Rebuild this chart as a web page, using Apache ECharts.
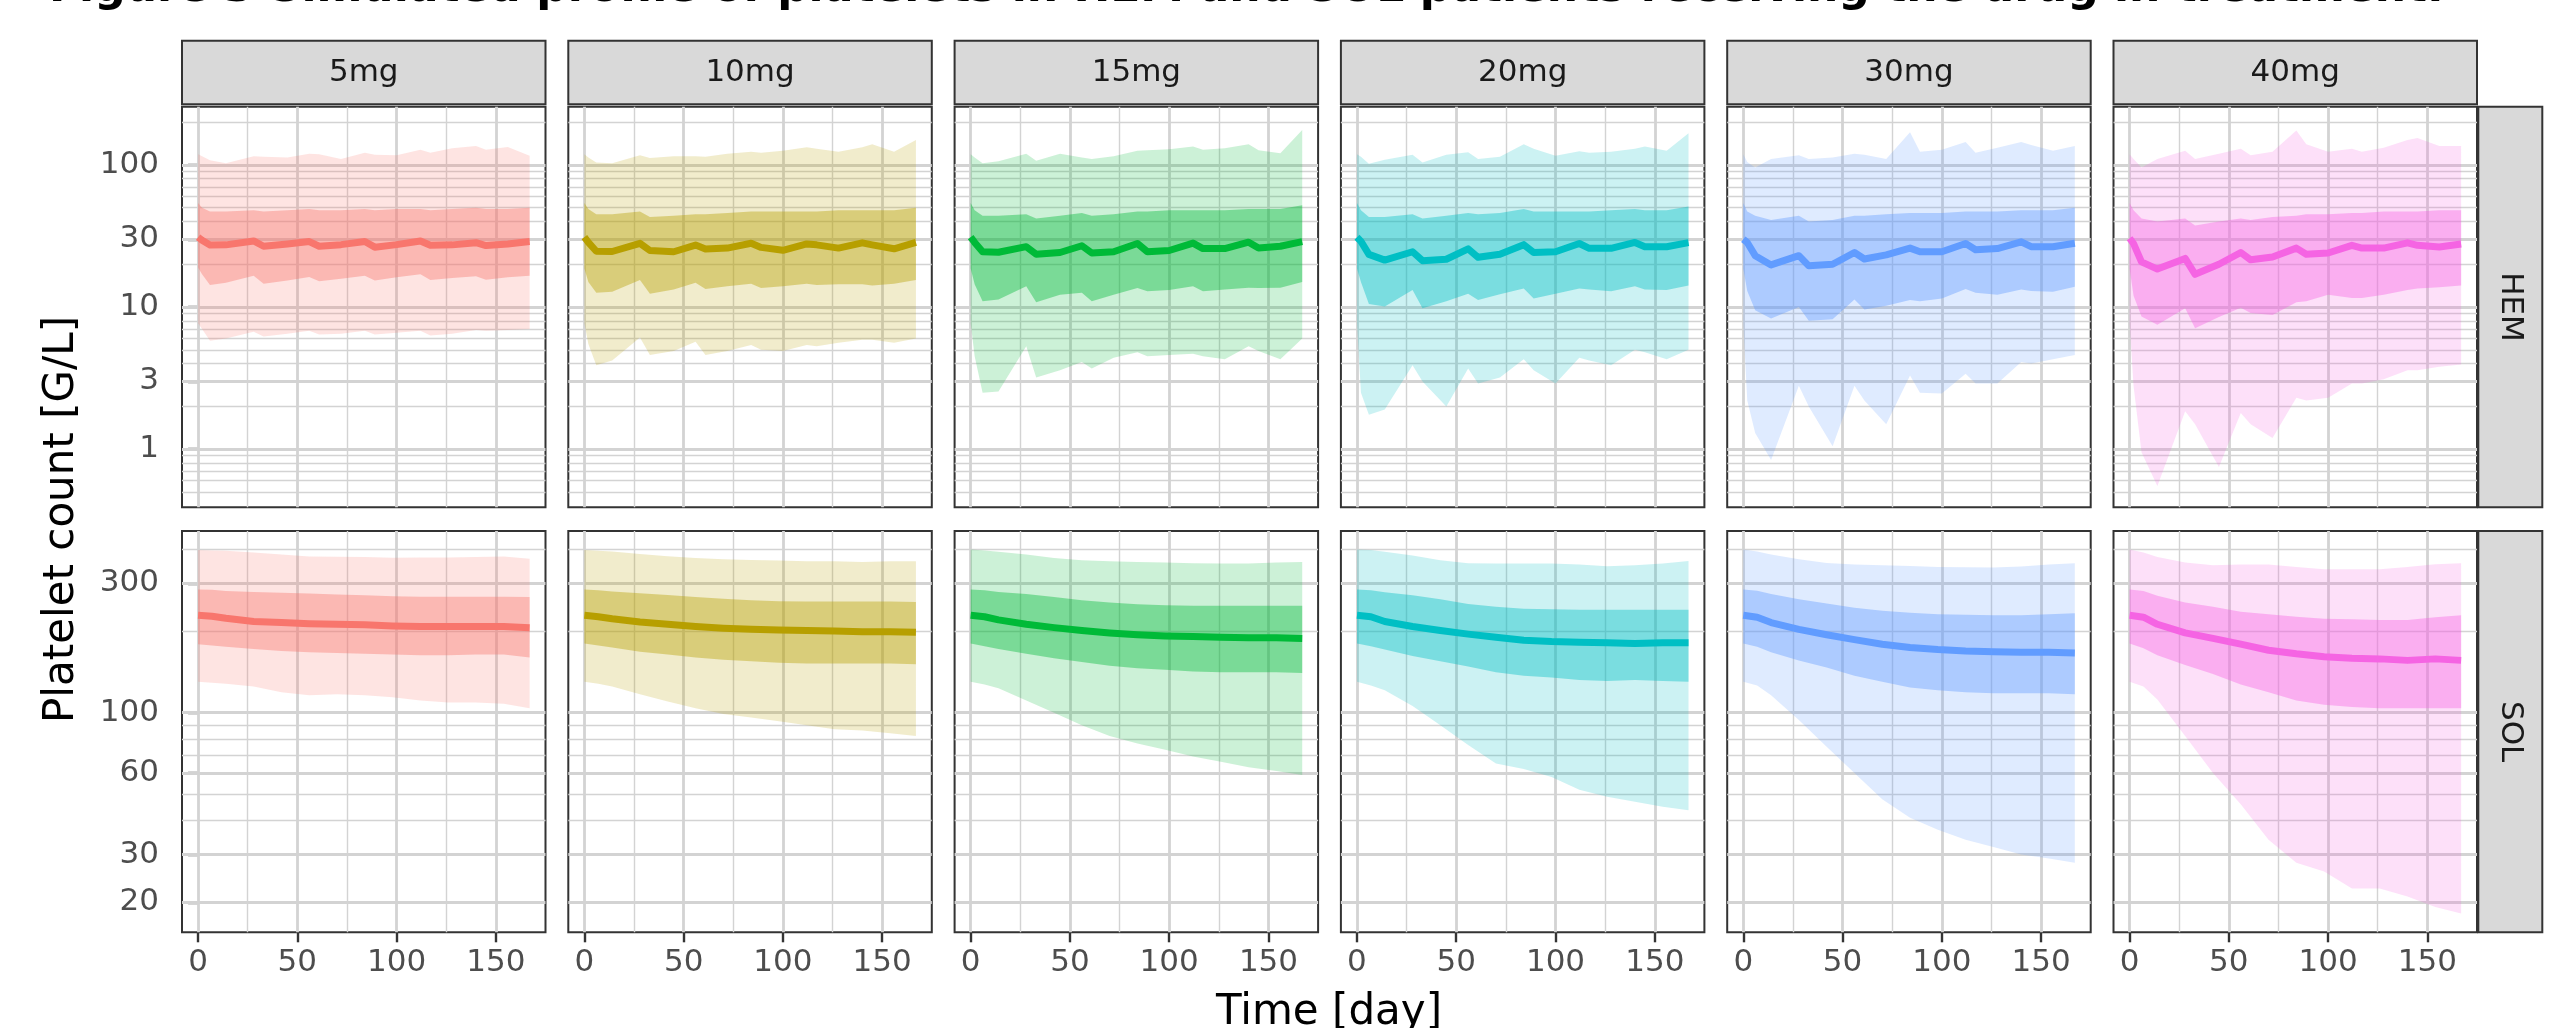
<!DOCTYPE html>
<html><head><meta charset="utf-8">
<script src="https://cdn.jsdelivr.net/npm/echarts@6/dist/echarts.min.js"></script>
<style>html,body{margin:0;padding:0;background:#fff}#c{width:2562px;height:1028px}</style>
</head><body><div id="c"></div>
<script>
// ---------------- DATA ----------------
const doses = ['5mg', '10mg', '15mg', '20mg', '30mg', '40mg'];
const groups = ['HEM', 'SOL'];
const doseColors = ['#F8766D', '#B79F00', '#00BA38', '#00BFC4', '#619CFF', '#F564E3'];

const xTicks = [0, 50, 100, 150];
const xMinorTicks = [25, 75, 125];
const hemTicks = [1, 3, 10, 30, 100];
const hemMinorTicks = [0.5, 0.6, 0.7, 0.8, 0.9, 2, 4, 5, 6, 7, 8, 9, 20, 40, 50, 60, 70, 80, 90, 200];
const solTicks = [20, 30, 60, 100, 300];
const solMinorTicks = [40, 50, 70, 80, 90, 200, 400];

const hemDays = [0, 2, 6, 14, 28, 33, 45, 56, 61, 72, 84, 89, 100, 112, 117, 128, 140, 145, 156, 167];
const solDays = [0, 7, 14, 28, 42, 56, 70, 84, 98, 112, 126, 140, 154, 167];

// HEM 5mg
const hem5_med  = [31, 29.5, 27.3, 27.4, 29.2, 26.8, 27.8, 28.9, 26.8, 27.5, 28.9, 26.4, 27.5, 29.2, 27.2, 27.4, 28.4, 27.1, 27.8, 28.9];
const hem5_hi50 = [54, 50, 47, 47, 48, 47, 48, 49, 48, 48, 49, 48, 49, 49, 48, 49, 50, 49, 49, 50];
const hem5_lo50 = [19, 17, 14.3, 14.8, 16.6, 14.6, 15.4, 16.3, 15.2, 15.8, 16.6, 15.4, 16.2, 17.0, 15.5, 16.0, 16.5, 15.6, 16.2, 16.6];
const hem5_hi90 = [119, 115, 108, 103, 115, 114, 113, 120, 119, 110, 122, 118, 117, 128, 122, 131, 136, 128, 134, 116];
const hem5_lo90 = [7.7, 7.0, 5.8, 6.0, 6.7, 6.2, 6.5, 6.8, 6.4, 6.5, 6.8, 6.4, 6.6, 6.8, 6.3, 6.5, 6.9, 6.8, 6.9, 7.0];
// HEM 10mg
const hem10_med  = [31, 28.5, 24.7, 24.6, 28.1, 25.0, 24.5, 27.3, 25.6, 26.0, 28.1, 26.3, 25.1, 27.8, 27.4, 26.0, 28.3, 27.4, 25.7, 28.5];
const hem10_hi50 = [54, 49, 45, 45, 47, 43, 44, 45, 45, 46, 47, 47, 47, 47, 47, 48, 48, 48, 48, 50];
const hem10_lo50 = [18.7, 15, 12.6, 12.8, 15.5, 12.4, 13.3, 14.8, 13.4, 14.0, 14.6, 13.6, 14.0, 14.6, 14.3, 14.5, 14.5, 14.2, 14.6, 15.5];
const hem10_hi90 = [119, 113, 104, 103, 117, 112, 115, 115, 114, 120, 124, 122, 126, 133, 130, 124, 133, 140, 124, 150];
const hem10_lo90 = [7.7, 5.5, 3.9, 4.2, 6.1, 4.6, 4.9, 5.7, 4.6, 4.9, 5.4, 5.0, 4.9, 5.4, 5.3, 5.6, 5.9, 5.9, 5.6, 6.0];
// HEM 15mg
const hem15_med  = [31, 28.5, 24.5, 24.3, 26.6, 23.5, 24.2, 27, 24, 24.5, 28, 24.5, 25, 28.2, 25.8, 25.8, 28.6, 26, 26.8, 28.9];
const hem15_hi50 = [54, 48, 44, 44, 45, 42, 44, 46, 44, 45, 47, 47, 48, 48, 48, 48, 49, 49, 49, 52];
const hem15_lo50 = [18.7, 14.5, 11, 11.3, 14.0, 10.8, 12.2, 12.6, 11.0, 12.2, 13.6, 12.9, 13.2, 14.0, 12.9, 13.3, 13.7, 13.6, 13.7, 15.0];
const hem15_hi90 = [119, 113, 103, 106, 120, 107, 120, 113, 110, 115, 126, 127, 129, 135, 128, 131, 140, 127, 121, 176];
const hem15_lo90 = [7.7, 4.5, 2.5, 2.55, 5.3, 3.2, 3.6, 4.1, 3.7, 4.4, 4.8, 4.5, 4.6, 4.7, 4.5, 4.3, 5.3, 4.9, 4.3, 6.0];
// HEM 20mg
const hem20_med  = [31, 29, 23.5, 21.4, 24.5, 21.2, 21.7, 25.7, 22.4, 23.5, 27.5, 24.2, 24.5, 28.0, 25.9, 25.9, 28.5, 26.6, 26.6, 28.4];
const hem20_hi50 = [54, 48, 43, 43, 45, 42, 44, 46, 45, 46, 49, 47, 47, 47, 47, 48, 49, 48, 48, 51];
const hem20_lo50 = [18.7, 15, 10.5, 10.1, 13.2, 9.8, 11.0, 12.4, 11.2, 12.3, 13.5, 11.5, 12.4, 13.5, 13.3, 12.9, 14.0, 13.3, 13.2, 14.2];
const hem20_hi90 = [119, 114, 102, 109, 118, 104, 118, 123, 110, 114, 140, 130, 116, 125, 122, 124, 130, 135, 126, 167];
const hem20_lo90 = [7.7, 2.5, 1.75, 1.9, 3.9, 3.0, 2.0, 3.7, 2.9, 3.2, 4.3, 3.6, 2.9, 4.4, 4.2, 3.9, 5.0, 4.8, 4.3, 5.0];
// HEM 30mg
const hem30_med  = [30, 28.5, 23, 19.8, 23, 19.5, 20, 24.2, 21.8, 23.3, 26, 24.5, 24.5, 28, 25.3, 25.8, 28.8, 26.6, 26.6, 28.1];
const hem30_hi50 = [54, 47, 44, 41, 44, 40, 41, 44, 44, 45, 46, 46, 46, 47, 47, 47, 48, 48, 48, 50];
const hem30_lo50 = [18.7, 13, 9.5, 8.3, 10, 8.0, 8.2, 11.3, 9.6, 10.2, 11.2, 11.0, 11.5, 13.4, 12.6, 12.2, 13.3, 13.0, 12.8, 13.9];
const hem30_hi90 = [119, 105, 96, 110, 117, 110, 113, 120, 118, 110, 170, 124, 128, 145, 122, 132, 145, 138, 126, 136];
const hem30_lo90 = [7.7, 2.2, 1.3, 0.84, 2.8, 2.0, 1.05, 2.8, 2.2, 1.5, 3.3, 2.5, 2.47, 3.4, 2.9, 2.9, 4.1, 4.0, 4.3, 4.6];
// HEM 40mg
const hem40_med  = [30.5, 28, 20.8, 18.5, 22, 17, 20, 24.2, 21.5, 22.5, 26, 23.5, 24, 27.2, 26, 26, 28.3, 27.2, 26.5, 27.8];
const hem40_hi50 = [54, 48, 42, 40, 42, 37.5, 40, 42, 41, 43, 44, 45, 45, 46, 46, 47, 47, 47, 48, 48];
const hem40_lo50 = [18.7, 12, 8.6, 7.5, 9.8, 7.1, 8.5, 9.9, 9.1, 8.8, 10.8, 11.0, 12.2, 11.6, 11.6, 12.2, 13.2, 13.5, 13.8, 14.2];
const hem40_hi90 = [119, 110, 96, 110, 126, 110, 120, 130, 117, 124, 175, 140, 124, 130, 124, 132, 150, 155, 136, 136];
const hem40_lo90 = [7.7, 2.8, 0.95, 0.55, 1.85, 1.5, 0.75, 1.8, 1.5, 1.2, 2.3, 2.2, 2.3, 2.9, 2.9, 3.1, 3.6, 3.6, 3.8, 3.95];

// SOL 5mg
const sol5_med  = [229, 227, 223, 217, 215, 213, 212, 211, 209, 208, 208, 208, 208, 206];
const sol5_hi50 = [285, 284, 281, 279, 277, 275, 273, 271, 269, 268, 268, 268, 268, 267];
const sol5_lo50 = [179, 177, 175, 172, 169, 167, 166, 165, 164, 163, 163, 164, 164, 160];
const sol5_hi90 = [398, 397, 396, 390, 383, 377, 376, 375, 373, 374, 374, 375, 377, 370];
const sol5_lo90 = [130, 129, 128, 125, 119, 116, 117, 116, 114, 111, 109, 109, 108, 104];
// SOL 10mg
const sol10_med  = [229, 226, 222, 216, 212, 208, 205, 203, 202, 201, 200, 199, 199, 198];
const sol10_hi50 = [285, 283, 280, 276, 272, 267, 263, 260, 258, 257, 257, 257, 257, 256];
const sol10_lo50 = [180, 177, 174, 168, 164, 160, 157, 155, 153, 152, 152, 152, 152, 151];
const sol10_hi90 = [398, 396, 393, 385, 378, 372, 368, 366, 364, 362, 362, 360, 362, 362];
const sol10_lo90 = [130, 128, 125, 117, 110, 104, 99, 96, 93, 90, 87, 86, 84, 82];
// SOL 15mg
const sol15_med  = [229, 226, 220, 212, 206, 201, 197, 194, 192, 191, 190, 189, 189, 188];
const sol15_hi50 = [285, 283, 279, 274, 267, 260, 255, 251, 249, 248, 248, 248, 248, 248];
const sol15_lo50 = [180, 176, 172, 165, 159, 154, 149, 146, 144, 142, 141, 141, 141, 140];
const sol15_hi90 = [400, 397, 392, 383, 372, 365, 362, 360, 358, 356, 355, 355, 358, 360];
const sol15_lo90 = [130, 127, 123, 111, 100, 90, 82, 77, 73, 69, 66, 63, 61, 59];
// SOL 20mg
const sol20_med  = [229, 226, 217, 208, 201, 195, 190, 185, 183, 182, 181, 180, 181, 181];
const sol20_hi50 = [285, 283, 278, 271, 262, 252, 246, 242, 241, 240, 240, 240, 240, 240];
const sol20_lo50 = [180, 176, 171, 162, 155, 148, 141, 137, 135, 132, 131, 132, 131, 130];
const sol20_hi90 = [400, 398, 392, 380, 365, 356, 355, 355, 355, 352, 347, 350, 355, 363];
const sol20_lo90 = [130, 126, 121, 106, 90, 76, 65, 62, 58, 52, 49, 47, 45, 43.7];
// SOL 30mg
const sol30_med  = [229, 225, 215, 203, 194, 186, 179, 174, 171, 169, 168, 167, 167, 166];
const sol30_hi50 = [285, 282, 274, 262, 253, 244, 238, 234, 231, 230, 229, 229, 231, 233];
const sol30_lo50 = [180, 175, 167, 156, 147, 137, 130, 124, 121, 119, 118, 118, 118, 117];
const sol30_hi90 = [400, 393, 383, 368, 357, 352, 350, 348, 345, 344, 343, 346, 352, 356];
const sol30_lo90 = [130, 126, 116, 94, 75, 60, 48, 41, 37, 34, 32, 30, 29, 28];
// SOL 40mg
const sol40_med  = [229, 225, 212, 197, 188, 179, 170, 165, 161, 159, 158, 156, 158, 156];
const sol40_hi50 = [285, 281, 270, 255, 246, 236, 231, 226, 222, 221, 220, 220, 225, 229];
const sol40_lo50 = [180, 173, 163, 150, 139, 127, 119, 111, 107, 105, 104, 104, 104, 104];
const sol40_hi90 = [400, 390, 375, 358, 350, 352, 352, 345, 338, 338, 338, 345, 353, 356];
const sol40_lo90 = [130, 125, 112, 82, 60, 46, 34, 28, 26, 22.5, 22.5, 21, 19.2, 18.2];

const titleText = 'Figure 3 Simulated profile of platelets in HEM and SOL patients receiving the drug in treatment.';

// ---------------- BUILD ----------------
const hemSets = [
  [hem5_med, hem5_lo50, hem5_hi50, hem5_lo90, hem5_hi90],
  [hem10_med, hem10_lo50, hem10_hi50, hem10_lo90, hem10_hi90],
  [hem15_med, hem15_lo50, hem15_hi50, hem15_lo90, hem15_hi90],
  [hem20_med, hem20_lo50, hem20_hi50, hem20_lo90, hem20_hi90],
  [hem30_med, hem30_lo50, hem30_hi50, hem30_lo90, hem30_hi90],
  [hem40_med, hem40_lo50, hem40_hi50, hem40_lo90, hem40_hi90]
];
const solSets = [
  [sol5_med, sol5_lo50, sol5_hi50, sol5_lo90, sol5_hi90],
  [sol10_med, sol10_lo50, sol10_hi50, sol10_lo90, sol10_hi90],
  [sol15_med, sol15_lo50, sol15_hi50, sol15_lo90, sol15_hi90],
  [sol20_med, sol20_lo50, sol20_hi50, sol20_lo90, sol20_hi90],
  [sol30_med, sol30_lo50, sol30_hi50, sol30_lo90, sol30_hi90],
  [sol40_med, sol40_lo50, sol40_hi50, sol40_lo90, sol40_hi90]
];

const FONT = 'DejaVu Sans';
const PANEL_LEFT0 = 182, PANEL_STEP = 386.3, PANEL_W = 363.5;
const ROW_TOP = [106.7, 531], ROW_H = [400.6, 401.3];
const X_MIN = -8.1, X_MAX = 175.0;
const Y_RANGE = [[0.39, 257], [15.5, 468]];
const Y_MAJOR = [hemTicks, solTicks];
const Y_MINOR = [hemMinorTicks, solMinorTicks];
const GRID_COL = '#D3D3D3';

function rgba(hex, a) {
  const n = parseInt(hex.slice(1), 16);
  return 'rgba(' + ((n >> 16) & 255) + ',' + ((n >> 8) & 255) + ',' + (n & 255) + ',' + a + ')';
}

const grids = [], xAxes = [], yAxes = [], series = [], graphics = [];

for (let r = 0; r < 2; r++) {
  for (let c = 0; c < 6; c++) {
    const k = r * 6 + c;
    const left = PANEL_LEFT0 + c * PANEL_STEP;
    grids.push({ left: left, top: ROW_TOP[r], width: PANEL_W, height: ROW_H[r], show: true,
      borderColor: '#333333', borderWidth: 2, backgroundColor: '#FFFFFF', containLabel: false });
    const bottomRow = r === 1;
    xAxes.push({ gridIndex: k, type: 'value', min: X_MIN, max: X_MAX,
      axisLine: { show: false }, splitLine: { show: false },
      axisTick: { show: bottomRow, customValues: xTicks, length: 10, lineStyle: { color: '#333333', width: 2.4 } },
      axisLabel: { show: bottomRow, customValues: xTicks, fontSize: 31, color: '#4D4D4D', fontFamily: FONT, margin: 15 } });
    const firstCol = c === 0;
    yAxes.push({ gridIndex: k, type: 'log', logBase: 10, min: Y_RANGE[r][0], max: Y_RANGE[r][1],
      axisLine: { show: false }, splitLine: { show: false },
      axisTick: { show: firstCol, customValues: Y_MAJOR[r], length: 10, lineStyle: { color: '#333333', width: 2.4 } },
      axisLabel: { show: firstCol, customValues: Y_MAJOR[r], fontSize: 31, color: '#4D4D4D', fontFamily: FONT, margin: 23 } });

    // gridlines (drawn through the axes via markLine)
    const ml = [];
    Y_MINOR[r].forEach(v => ml.push({ yAxis: v, lineStyle: { color: GRID_COL, width: 1.4, type: 'solid' } }));
    xMinorTicks.forEach(v => ml.push({ xAxis: v, lineStyle: { color: GRID_COL, width: 1.4, type: 'solid' } }));
    Y_MAJOR[r].forEach(v => ml.push({ yAxis: v, lineStyle: { color: GRID_COL, width: 2.8, type: 'solid' } }));
    xTicks.forEach(v => ml.push({ xAxis: v, lineStyle: { color: GRID_COL, width: 2.8, type: 'solid' } }));
    series.push({ type: 'line', xAxisIndex: k, yAxisIndex: k, data: [], silent: true, z: 1,
      markLine: { silent: true, symbol: ['none', 'none'], label: { show: false }, animation: false, z: 1,
        emphasis: { disabled: true }, data: ml } });

    const days = r === 0 ? hemDays : solDays;
    const set = r === 0 ? hemSets[c] : solSets[c];
    const col = doseColors[c];
    const bands = [[set[3], set[4], 0.2, 2], [set[1], set[2], 0.4, 3]];
    bands.forEach(([lo, hi, a, z]) => {
      series.push({ type: 'custom', xAxisIndex: k, yAxisIndex: k, z: z, silent: true, animation: false,
        data: [[days[0], lo[0]]],
        renderItem: function (params, api) {
          const pts = [];
          for (let i = 0; i < days.length; i++) pts.push(api.coord([days[i], hi[i]]));
          for (let i = days.length - 1; i >= 0; i--) pts.push(api.coord([days[i], lo[i]]));
          return { type: 'polygon', shape: { points: pts }, style: { fill: rgba(col, a) } };
        } });
    });
    series.push({ type: 'line', xAxisIndex: k, yAxisIndex: k, z: 4, silent: true, animation: false,
      data: days.map((d, i) => [d, set[0][i]]), showSymbol: false, symbol: 'none',
      lineStyle: { color: col, width: 7, join: 'round' } });
  }
}

// strips
for (let c = 0; c < 6; c++) {
  const left = PANEL_LEFT0 + c * PANEL_STEP;
  graphics.push({ type: 'rect', shape: { x: left, y: 40.7, width: PANEL_W, height: 63.6 },
    style: { fill: '#D9D9D9', stroke: '#333333', lineWidth: 2 }, z: 10 });
  graphics.push({ type: 'text', x: left + PANEL_W / 2, y: 72.5, z: 11,
    style: { text: doses[c], fontSize: 31, fontFamily: FONT, fill: '#1A1A1A', align: 'center', verticalAlign: 'middle' } });
}
for (let r = 0; r < 2; r++) {
  graphics.push({ type: 'rect', shape: { x: 2478.3, y: ROW_TOP[r], width: 64, height: ROW_H[r] },
    style: { fill: '#D9D9D9', stroke: '#333333', lineWidth: 2 }, z: 10 });
  graphics.push({ type: 'text', x: 2510.3, y: ROW_TOP[r] + ROW_H[r] / 2, rotation: -Math.PI / 2, z: 11,
    style: { text: groups[r], fontSize: 31, fontFamily: FONT, fill: '#1A1A1A', align: 'center', verticalAlign: 'middle' } });
}
// axis titles
graphics.push({ type: 'text', x: 62, y: 519.5, rotation: Math.PI / 2, z: 11,
  style: { text: 'Platelet count [G/L]', fontSize: 42, fontFamily: FONT, fill: '#000000', align: 'center', verticalAlign: 'middle' } });
graphics.push({ type: 'text', x: 1329, y: 1013, z: 11,
  style: { text: 'Time [day]', fontSize: 42, fontFamily: FONT, fill: '#000000', align: 'center', verticalAlign: 'middle' } });
// title (mostly cropped at top in the reference)
graphics.push({ type: 'text', x: 49, y: -10, z: 11,
  style: { text: titleText, fontSize: 44, fontWeight: 'bold', fontFamily: FONT, fill: '#000000', align: 'left', verticalAlign: 'middle' } });

const chart = echarts.init(document.getElementById('c'), null, { renderer: 'canvas', width: 2562, height: 1028 });
chart.setOption({
  animation: false,
  backgroundColor: '#FFFFFF',
  grid: grids, xAxis: xAxes, yAxis: yAxes, series: series,
  graphic: { elements: graphics }
});
</script></body></html>
